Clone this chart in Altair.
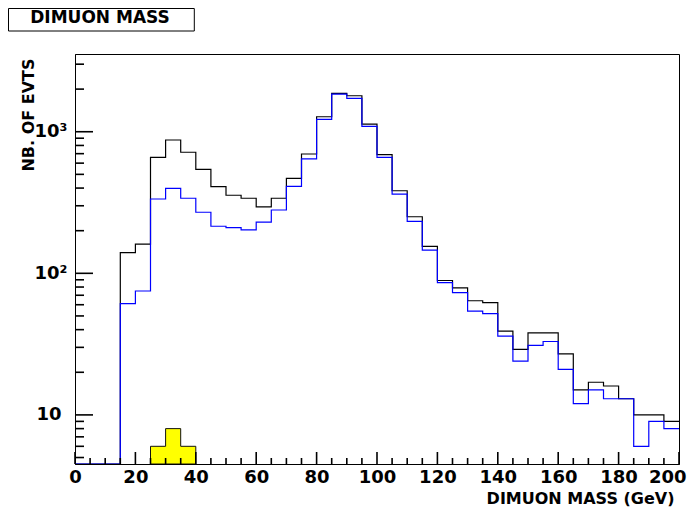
import altair as alt
import pandas as pd

# ---------------- data ----------------
BIN_WIDTH = 5
bin_low = list(range(0, 200, BIN_WIDTH))  # 40 bins, 0..195
black_counts = [0, 0, 0, 140, 161, 659, 874, 716, 543, 409,
                356, 339, 295, 339, 469, 696, 1276, 1866, 1795, 1133,
                689, 383, 251, 155, 89, 79, 64, 62, 39, 29,
                38, 38, 27, 15, 17, 16, 13, 10, 10, 9]
blue_counts = [0, 0, 0, 61, 75, 335, 398, 339, 270, 215,
               210, 203, 230, 280, 411, 644, 1223, 1845, 1721, 1092,
               659, 363, 233, 146, 86, 73, 54, 52, 36, 24,
               31, 33, 21, 12, 15, 13, 13, 6, 9, 8]
yellow_low = [25, 30, 35]
yellow_counts = [6, 8, 6]

x_label_values = [0, 20, 40, 60, 80, 100, 120, 140, 160, 180, 200]
x_minor_ticks = [v for v in range(0, 201, 5) if v % 20 != 0]
y_label_values = [10, 100, 1000]
y_minor_ticks = [5, 6, 7, 8, 9, 20, 30, 40, 50, 60, 70, 80, 90,
                 200, 300, 400, 500, 600, 700, 800, 900, 2000, 3000]
Y_MIN, Y_MAX = 4.5, 3540
X_MIN, X_MAX = 0, 200


def step_frame(lows, counts):
    xs = lows + [lows[-1] + BIN_WIDTH]
    ys = counts + [counts[-1]]
    return pd.DataFrame({"x": xs, "n": ys})


W, H = 604, 410
FONT = "DejaVu Sans"

xscale = alt.Scale(domain=[X_MIN, X_MAX], nice=False, zero=False)
yscale = alt.Scale(type="log", domain=[Y_MIN, Y_MAX], nice=False)

label_x_axis = alt.Axis(
    orient="bottom", values=x_label_values, ticks=False, tickSize=0,
    labelPadding=4, labelFont=FONT, labelFontWeight="bold", labelFontSize=18,
    labelColor="black", labelFlush=False, labelOverlap=False,
    labelAlign={"condition": {"test": "datum.value == 200", "value": "right"}, "value": "center"},
    labelOffset={"condition": {"test": "datum.value == 200", "value": 7}, "value": 0},
    domain=True, domainColor="black", domainWidth=1, grid=False,
    title="DIMUON MASS (GeV)", titleFont=FONT, titleFontWeight="bold",
    titleFontSize=16, titleColor="black", titleAlign="right",
    titleBaseline="alphabetic", titleX=599, titleY=39,
)
label_y_axis = alt.Axis(
    orient="left", values=y_label_values, ticks=False, tickSize=0,
    labelExpr="datum.value == 1000 ? '10³' : datum.value == 100 ? '10²' : '10'",
    labelPadding={"condition": {"test": "datum.value == 10", "value": 14}, "value": 8},
    labelFont=FONT, labelFontWeight="bold", labelFontSize=18, labelColor="black",
    labelBaseline="middle", labelOverlap=False, labelFlush=False,
    domain=True, domainColor="black", domainWidth=1, grid=False,
    title="NB. OF EVTS", titleFont=FONT, titleFontWeight="bold",
    titleFontSize=16, titleColor="black", titleAngle=270, titleAlign="right",
    titleBaseline="alphabetic", titleX=-42, titleY=4,
)

floor_expr = f"max(datum.n, {Y_MIN})"

black = alt.Chart(step_frame(bin_low, black_counts)).mark_line(
    interpolate="step-after", color="#000000", strokeWidth=1.2, clip=True
).transform_calculate(yv=floor_expr).encode(
    x=alt.X("x:Q", scale=xscale, axis=label_x_axis),
    y=alt.Y("yv:Q", scale=yscale, axis=label_y_axis),
)

blue = alt.Chart(step_frame(bin_low, blue_counts)).mark_line(
    interpolate="step-after", color="#0000ff", strokeWidth=1.2, clip=True
).transform_calculate(yv=floor_expr).encode(
    x=alt.X("x:Q", scale=xscale, axis=None),
    y=alt.Y("yv:Q", scale=yscale, axis=None),
)

yellow = alt.Chart(step_frame(yellow_low, yellow_counts)).mark_area(
    interpolate="step-after", fill="#ffff00", stroke="#111111", strokeWidth=1,
    fillOpacity=1, clip=True
).transform_calculate(yv=floor_expr, fl=str(Y_MIN)).encode(
    x=alt.X("x:Q", scale=xscale, axis=None),
    y=alt.Y("yv:Q", scale=yscale, axis=None),
    y2=alt.Y2("fl:Q"),
)


# inward-pointing ticks (ROOT style), positioned through the scales
def x_ticks(values, size):
    return alt.Chart(pd.DataFrame({"tx": values})).mark_rule(
        color="#000000", strokeWidth=1.6
    ).encode(
        x=alt.X("tx:Q", scale=xscale, axis=None),
        y=alt.value(H), y2=alt.value(H - size),
    )


def y_ticks(values, size):
    return alt.Chart(pd.DataFrame({"ty": values})).mark_rule(
        color="#000000", strokeWidth=1.6
    ).encode(
        y=alt.Y("ty:Q", scale=yscale, axis=None),
        x=alt.value(0), x2=alt.value(size),
    )


ticks = [x_ticks(x_label_values, 12), x_ticks(x_minor_ticks, 6),
         y_ticks(y_label_values, 18), y_ticks(y_minor_ticks, 9)]

one = pd.DataFrame({"k": [0]})
box = alt.Chart(one).mark_rect(fill="white", stroke="black", strokeWidth=1).encode(
    x=alt.value(-66.5), x2=alt.value(119.3), y=alt.value(-45.5), y2=alt.value(-23)
)
box_text = alt.Chart(one).mark_text(
    text="DIMUON MASS", font=FONT, fontWeight="bold", fontSize=17,
    align="center", baseline="alphabetic", color="black"
).encode(x=alt.value(25), y=alt.value(-30.7))

chart = alt.layer(yellow, black, blue, *ticks, box, box_text).resolve_axis(
    x="independent", y="independent"
).properties(
    width=W, height=H,
    padding={"left": 67, "top": 46, "right": 8, "bottom": 45},
    autosize=alt.AutoSizeParams(type="none"),
    background="white",
).configure_view(stroke="black", strokeWidth=1)

chart.save("out.html", embed_options={"renderer": "svg", "actions": False})
